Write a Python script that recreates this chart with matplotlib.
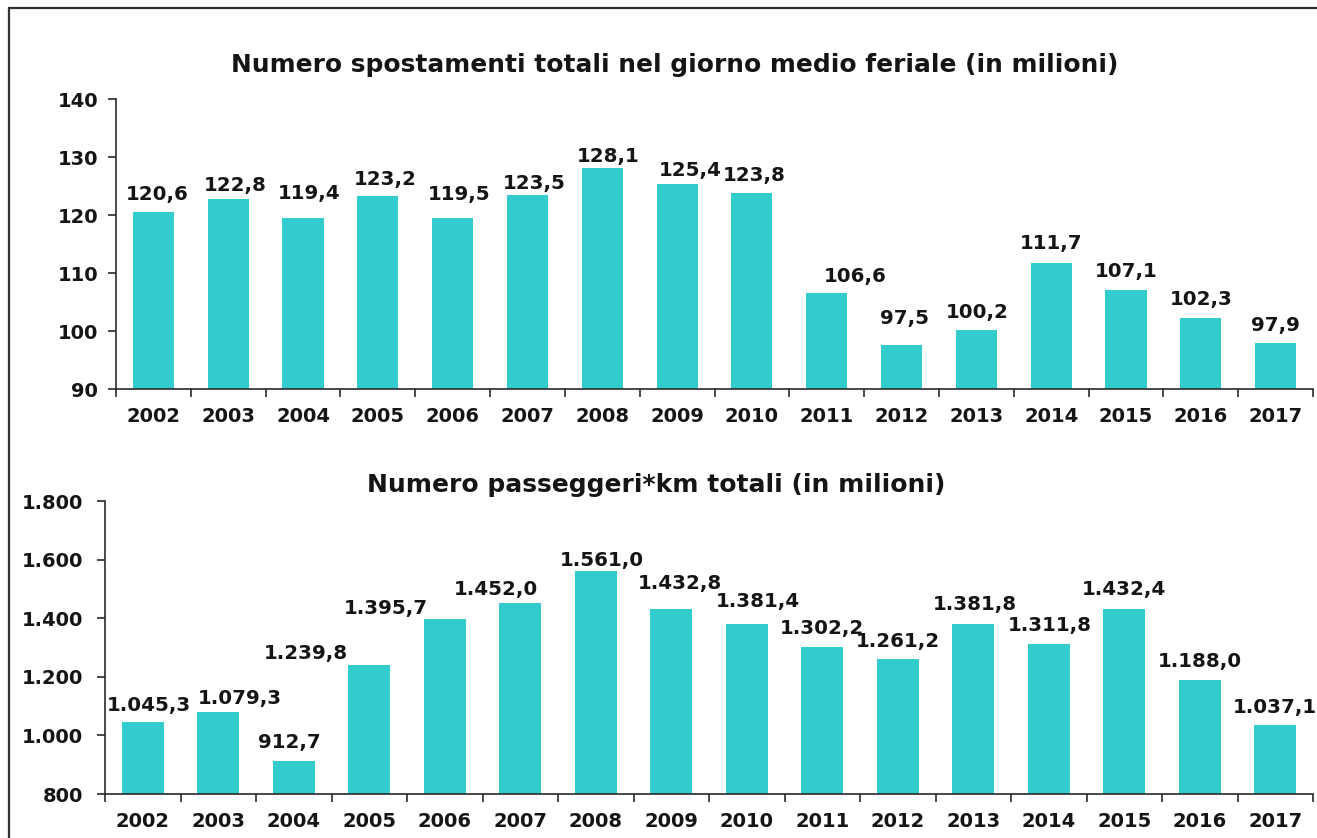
import matplotlib
matplotlib.use("Agg")
import matplotlib.pyplot as plt
from matplotlib.patches import Rectangle
from matplotlib.ticker import FixedLocator

# ---------------- data ----------------
years = [str(y) for y in range(2002, 2018)]
spostamenti = [120.6, 122.8, 119.4, 123.2, 119.5, 123.5, 128.1, 125.4,
               123.8, 106.6, 97.5, 100.2, 111.7, 107.1, 102.3, 97.9]
passeggeri_km = [1045.3, 1079.3, 912.7, 1239.8, 1395.7, 1452.0, 1561.0, 1432.8,
                 1381.4, 1302.2, 1261.2, 1381.8, 1311.8, 1432.4, 1188.0, 1037.1]
top_yticks = [90, 100, 110, 120, 130, 140]
bottom_yticks = [800, 1000, 1200, 1400, 1600, 1800]
title_top = "Numero spostamenti totali nel giorno medio feriale (in milioni)"
title_bottom = "Numero passeggeri*km totali (in milioni)"

# label placement tweaks (pixels): horizontal shift, gap above bar top
top_dx = [4, 7, 6, 7, 6, 7, 6, 13, 2, 29, 3, 1, 0, 0, 0, 0]
top_dy = [12, 8, 19, 11, 18, 6, 6, 8, 12, 11, 22, 12, 14, 13, 13, 12]
bot_dx = [6, 22, -4, -63, -59, -24, 6, 9, 11, 0, 0, 2, 1, 0, 0, 0]
bot_dy = [11, 8, 13, 6, 5, 8, 5, 20, 17, 13, 12, 14, 13, 14, 13, 12]

BAR = "#33CCCC"
TXT = "#151515"
AX = "#2a2a2a"

plt.rcParams["font.family"] = ["DejaVu Sans"]


def it_num(v, dec):
    s = f"{v:,.{dec}f}"
    return s.replace(",", "X").replace(".", ",").replace("X", ".")


W, H = 1317, 838
fig = plt.figure(figsize=(W / 100, H / 100), dpi=100)
fig.patch.set_facecolor("white")


def px_rect(l, r, b, t):
    return [l / W, 1 - b / H, (r - l) / W, (b - t) / H]


def style(ax, values, yticks, ypad, dx, dy, width):
    x = list(range(len(values)))
    ax.bar(x, [v - yticks[0] for v in values], bottom=yticks[0], width=width,
           color=BAR, edgecolor="none", zorder=2)
    ax.set_xlim(-0.5, len(values) - 0.5)
    ax.set_ylim(yticks[0], yticks[-1])
    ax.set_xticks(x)
    ax.set_xticklabels(years)
    ax.xaxis.set_minor_locator(FixedLocator([i - 0.5 for i in range(len(values) + 1)]))
    ax.tick_params(axis="x", which="major", length=0, pad=13,
                   labelsize=14, labelcolor=TXT)
    ax.tick_params(axis="x", which="minor", length=6, width=1.2, color=AX, direction="out")
    ax.set_yticks(yticks)
    ax.set_yticklabels([it_num(t, 0) for t in yticks])
    ax.tick_params(axis="y", length=6, width=1.2, color=AX, pad=ypad,
                   labelsize=14, labelcolor=TXT)
    for lab in ax.get_xticklabels() + ax.get_yticklabels():
        lab.set_fontweight("bold")
    for s in ("top", "right"):
        ax.spines[s].set_visible(False)
    for s in ("left", "bottom"):
        ax.spines[s].set_color(AX)
        ax.spines[s].set_linewidth(1.2)
    for i, v in enumerate(values):
        ax.annotate(it_num(v, 1), xy=(i, v), xytext=(dx[i], dy[i]),
                    textcoords="offset pixels", ha="center", va="baseline",
                    fontsize=14.3, fontweight="bold", color=TXT, zorder=3,
                    annotation_clip=False)


ax1 = fig.add_axes(px_rect(116, 1313, 389, 99))
style(ax1, spostamenti, top_yticks, 7, top_dx, top_dy, 0.55)

ax2 = fig.add_axes(px_rect(105, 1313, 794, 501))
style(ax2, passeggeri_km, bottom_yticks, 10, bot_dx, bot_dy, 0.56)

fig.text(675 / W, 1 - 72 / H, title_top, ha="center", va="baseline",
         fontsize=17.9, fontweight="bold", color=TXT)
fig.text(656 / W, 1 - 492 / H, title_bottom, ha="center", va="baseline",
         fontsize=18, fontweight="bold", color=TXT)

# outer frame (cropped on right and bottom)
fig.patches.append(Rectangle((9 / W, -0.05), 1.2, 1 - 8 / H + 0.05,
                             transform=fig.transFigure, fill=False,
                             edgecolor="#333333", linewidth=1.6, zorder=0))

fig.savefig("out.png", dpi=100, facecolor="white")
